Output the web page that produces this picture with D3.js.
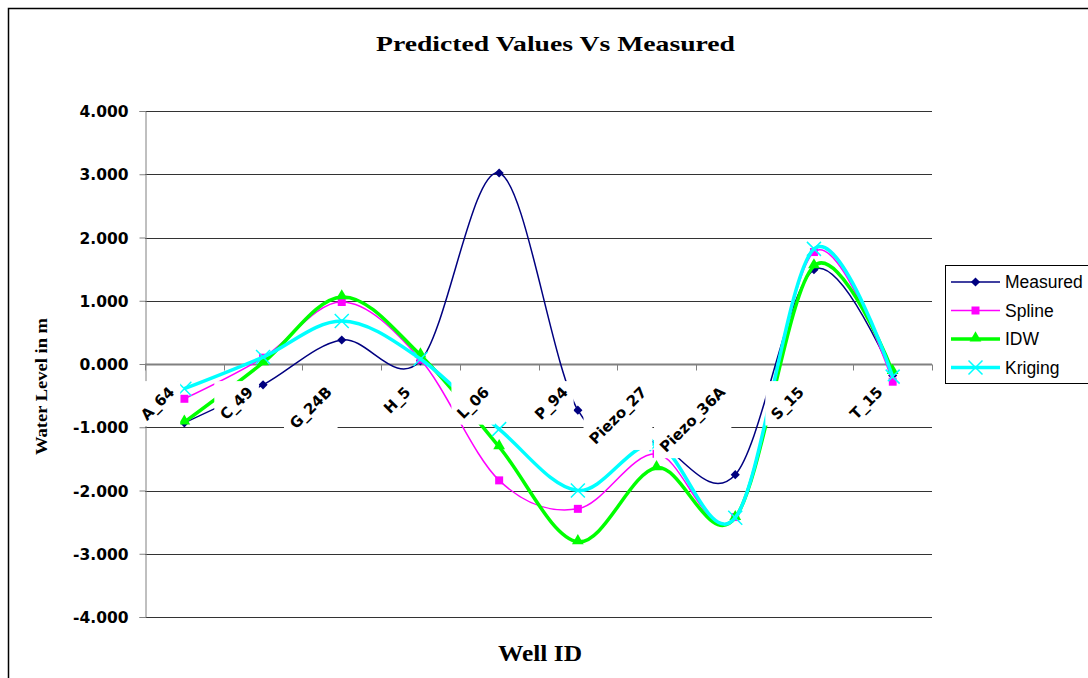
<!DOCTYPE html>
<html>
<head>
<meta charset="utf-8">
<script src="https://cdn.jsdelivr.net/npm/d3@7"></script>
<style>
  body { margin: 0; background: #fff; }
  svg { display: block; }
</style>
</head>
<body>
<svg id="chart" width="1088" height="678"></svg>
<script>
// well ids along the x axis
var categories = ["A_64", "C_49", "G_24B", "H_5", "L_06", "P_94", "Piezo_27", "Piezo_36A", "S_15", "T_15"];
// water level values (m)
var measured = [-0.93, -0.33, 0.38, 0.05, 3.02, -0.73, -1.24, -1.75, 1.49, -0.18];
var spline   = [-0.55, 0.10, 0.98, 0.07, -1.84, -2.29, -1.42, -2.42, 1.77, -0.28];
var idw      = [-0.92, 0.02, 1.06, 0.14, -1.31, -2.81, -1.64, -2.43, 1.55, -0.12];
var kriging  = [-0.39, 0.11, 0.68, 0.08, -1.03, -2.00, -1.27, -2.43, 1.82, -0.20];
var seriesNames = ["Measured", "Spline", "IDW", "Kriging"];
var yTicks = [4, 3, 2, 1, 0, -1, -2, -3, -4];

var svg = d3.select("#chart");

var x = d3.scaleBand().domain(categories).range([145, 932]);
var y = d3.scaleLinear().domain([-4, 4]).range([617, 111]);

var series = [
  {name: seriesNames[0], values: measured, color: "#000080", width: 1.5, marker: "diamond"},
  {name: seriesNames[1], values: spline,   color: "#ff00ff", width: 1.5, marker: "square"},
  {name: seriesNames[2], values: idw,      color: "#00ff00", width: 3.5, marker: "triangle"},
  {name: seriesNames[3], values: kriging,  color: "#00ffff", width: 3.5, marker: "cross"}
];

// outer chart frame
svg.append("rect")
  .attr("x", 8.5).attr("y", 8.5)
  .attr("width", 1100).attr("height", 700)
  .attr("fill", "none").attr("stroke", "#000").attr("stroke-width", 1.5);

// title
svg.append("text")
  .attr("x", 376).attr("y", 51)
  .attr("textLength", 359).attr("lengthAdjust", "spacingAndGlyphs")
  .style("font-family", "'Liberation Serif', 'Times New Roman', serif")
  .style("font-weight", "bold").style("font-size", "22px")
  .text("Predicted Values Vs Measured");

// horizontal gridlines
svg.append("g").selectAll("line")
  .data(yTicks.filter(function(d){ return d !== 0; }))
  .enter().append("line")
  .attr("x1", 145).attr("x2", 932)
  .attr("y1", function(d){ return Math.round(y(d)) + 0.5; })
  .attr("y2", function(d){ return Math.round(y(d)) + 0.5; })
  .attr("stroke", "#333").attr("stroke-width", 1);

// y axis
var yAxis = svg.append("g")
  .attr("transform", "translate(145.5,0)")
  .call(d3.axisLeft(y).tickValues(yTicks).tickSize(6).tickPadding(11)
    .tickFormat(function(d){ return d.toFixed(3); }));
yAxis.select(".domain").attr("stroke", "#808080");
yAxis.selectAll(".tick line").attr("stroke", "#808080");
yAxis.selectAll("text")
  .attr("dy", "0.36em")
  .style("font-family", "'DejaVu Sans', Verdana, sans-serif")
  .style("font-weight", "bold").style("font-size", "15.5px")
  .attr("fill", "#000");

// category axis line at zero with ticks on band boundaries
var y0 = Math.round(y(0)) + 0.5;
svg.append("line")
  .attr("x1", 145).attr("x2", 932).attr("y1", y0).attr("y2", y0)
  .attr("stroke", "#808080").attr("stroke-width", 2);
var bounds = categories.map(function(c){ return x(c); }).concat([x.range()[1]]);
svg.append("g").selectAll("line")
  .data(bounds).enter().append("line")
  .attr("x1", function(d){ return Math.round(d) + 0.5; })
  .attr("x2", function(d){ return Math.round(d) + 0.5; })
  .attr("y1", y0).attr("y2", y0 + 6)
  .attr("stroke", "#808080");

// smoothed lines
var line = d3.line()
  .x(function(d, i){ return x(categories[i]) + x.bandwidth() / 2; })
  .y(function(d){ return y(d); })
  .curve(d3.curveCardinal.tension(0));

function drawMarker(g, type, color, cx, cy) {
  if (type === "diamond") {
    g.append("path").attr("d", d3.symbol().type(d3.symbolSquare).size(42)())
      .attr("transform", "translate(" + cx + "," + cy + ") rotate(45)")
      .attr("fill", color);
  } else if (type === "square") {
    g.append("path").attr("d", d3.symbol().type(d3.symbolSquare).size(64)())
      .attr("transform", "translate(" + cx + "," + cy + ")")
      .attr("fill", color);
  } else if (type === "triangle") {
    g.append("path").attr("d", d3.symbol().type(d3.symbolTriangle).size(60)())
      .attr("transform", "translate(" + cx + "," + (cy - 1) + ")")
      .attr("fill", color);
  } else {
    g.append("path").attr("d", "M-7,-7L7,7M-7,7L7,-7")
      .attr("transform", "translate(" + cx + "," + cy + ")")
      .attr("stroke", color).attr("stroke-width", 1.5).attr("fill", "none");
  }
}

series.forEach(function(s){
  var g = svg.append("g").attr("class", "serie");
  g.append("path")
    .attr("d", line(s.values))
    .attr("fill", "none")
    .attr("stroke", s.color)
    .attr("stroke-width", s.width);
  s.values.forEach(function(v, i){
    drawMarker(g, s.marker, s.color, x(categories[i]) + x.bandwidth() / 2, y(v));
  });
});

// category labels, rotated, with opaque white boxes like the original
var lx = -9, ly = 29;
var xAxis = svg.append("g")
  .attr("transform", "translate(0," + y(0) + ")")
  .call(d3.axisBottom(x).tickSize(0));
xAxis.select(".domain").remove();
xAxis.selectAll(".tick text")
  .attr("x", lx).attr("y", ly).attr("dy", 0)
  .attr("text-anchor", "end")
  .attr("transform", "rotate(-45," + lx + "," + ly + ")")
  .style("font-family", "'DejaVu Sans', Verdana, sans-serif")
  .style("font-weight", "bold").style("font-size", "15px")
  .attr("fill", "#000");
xAxis.selectAll(".tick").each(function(){
  var t = d3.select(this).select("text");
  var bb = t.node().getBBox();
  var a = -Math.PI / 4;
  var pts = [[bb.x, bb.y], [bb.x + bb.width, bb.y], [bb.x, bb.y + bb.height], [bb.x + bb.width, bb.y + bb.height]]
    .map(function(p){
      var dx = p[0] - lx, dy = p[1] - ly;
      return [lx + dx * Math.cos(a) - dy * Math.sin(a), ly + dx * Math.sin(a) + dy * Math.cos(a)];
    });
  var x0 = d3.min(pts, function(p){ return p[0]; }), x1 = d3.max(pts, function(p){ return p[0]; });
  var yA = d3.min(pts, function(p){ return p[1]; }), yB = d3.max(pts, function(p){ return p[1]; });
  d3.select(this).insert("rect", "text")
    .attr("x", x0 - 2).attr("y", yA - 2)
    .attr("width", x1 - x0 + 4).attr("height", yB - yA + 4)
    .attr("fill", "#fff");
});

// axis titles
svg.append("text")
  .attr("transform", "translate(47,455) rotate(-90)")
  .attr("textLength", 137).attr("lengthAdjust", "spacingAndGlyphs")
  .style("font-family", "'Liberation Serif', 'Times New Roman', serif")
  .style("font-weight", "bold").style("font-size", "17px")
  .text("Water Level in m");
svg.append("text")
  .attr("x", 498).attr("y", 661)
  .attr("textLength", 84).attr("lengthAdjust", "spacingAndGlyphs")
  .style("font-family", "'Liberation Serif', 'Times New Roman', serif")
  .style("font-weight", "bold").style("font-size", "23px")
  .text("Well ID");

// legend
var legend = svg.append("g");
legend.append("rect")
  .attr("x", 945.5).attr("y", 265.5).attr("width", 150).attr("height", 118)
  .attr("fill", "#fff").attr("stroke", "#000");
series.forEach(function(s, i){
  var ly2 = 282 + i * 28.5;
  legend.append("line")
    .attr("x1", 951).attr("x2", 1000).attr("y1", ly2).attr("y2", ly2)
    .attr("stroke", s.color).attr("stroke-width", s.width);
  drawMarker(legend, s.marker, s.color, 975.5, ly2);
  legend.append("text")
    .attr("x", 1005).attr("y", ly2 + 6)
    .style("font-family", "'Liberation Sans', Arial, sans-serif")
    .style("font-size", "17.5px")
    .text(s.name);
});
</script>
</body>
</html>
